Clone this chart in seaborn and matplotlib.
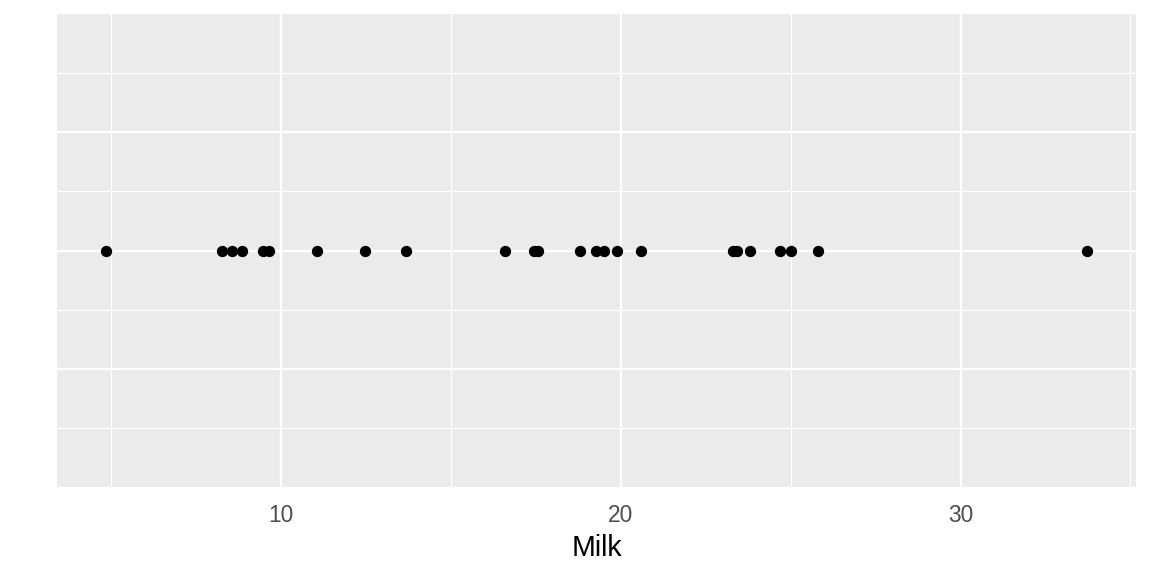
import matplotlib
matplotlib.use("Agg")
import matplotlib.pyplot as plt
import seaborn as sns
import pandas as pd
import numpy as np
from matplotlib.ticker import FixedLocator

milk = [4.84, 8.26, 8.55, 8.85, 9.45, 9.65, 11.05, 12.46, 13.67, 16.58,
        17.44, 17.56, 18.79, 19.27, 19.50, 19.87, 20.59, 23.30, 23.42,
        23.79, 24.69, 25.00, 25.79, 33.72]
x_ticks = [10, 20, 30]
x_minor = [5, 15, 25, 35]

df = pd.DataFrame({"Milk": milk, "y": [0.0] * len(milk)})

sns.set_theme(style="white")
plt.rcParams['font.family'] = ['Liberation Sans', 'DejaVu Sans']

fig = plt.figure(figsize=(8, 4), dpi=144)
ax = fig.add_axes([57/1152, 1 - 487/576, (1136 - 57)/1152, (487 - 14)/576])
ax.set_facecolor("#EBEBEB")

sns.scatterplot(data=df, x="Milk", y="y", ax=ax, color="black", s=32,
                edgecolor="black", linewidth=0, zorder=3)

rng = max(milk) - min(milk)
ax.set_xlim(min(milk) - 0.05 * rng, max(milk) + 0.05 * rng)
ax.set_ylim(-4, 4)

ax.xaxis.set_major_locator(FixedLocator(x_ticks))
ax.xaxis.set_minor_locator(FixedLocator(x_minor))
ax.yaxis.set_major_locator(FixedLocator([-2, 0, 2]))
ax.yaxis.set_minor_locator(FixedLocator([-3, -1, 1, 3]))

ax.grid(which="major", color="white", linewidth=1.1, zorder=0)
ax.grid(which="minor", color="white", linewidth=0.55, zorder=0)
ax.set_axisbelow(True)

for s in ax.spines.values():
    s.set_visible(False)

ax.tick_params(axis="x", which="major", length=3.6, width=1.0, color="#333333",
               labelsize=11.4, labelcolor="#4D4D4D", pad=5.0)
ax.tick_params(axis="x", which="minor", length=0)
ax.tick_params(axis="y", which="both", length=0, labelleft=False)
ax.set_yticklabels([])
ax.set_ylabel("")
ax.set_xlabel("Milk", fontsize=14.3, color="black", labelpad=3.5)

fig.savefig("out.png", dpi=144, facecolor="white")
